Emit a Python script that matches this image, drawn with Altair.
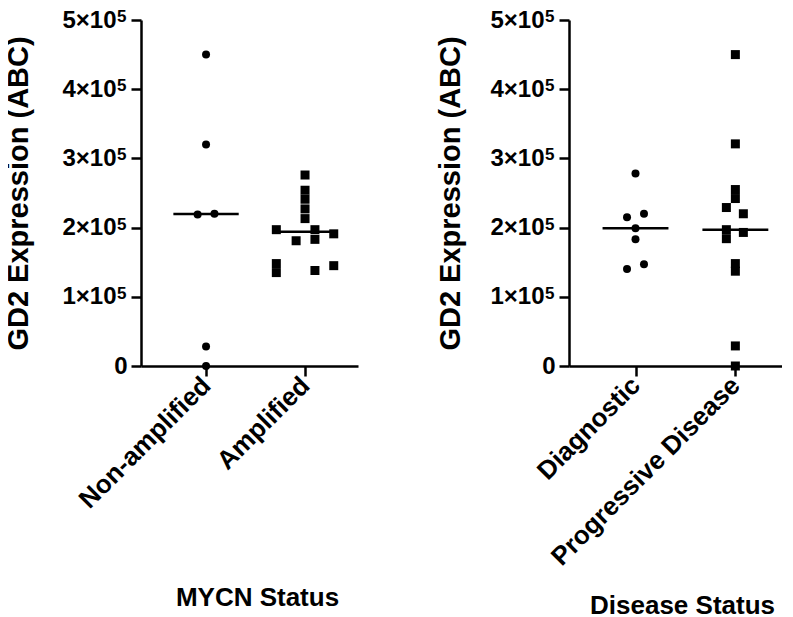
import altair as alt
import pandas as pd

# ---- data ----
left_categories = ["Non-amplified", "Amplified"]
nonamp_values = [4.50e5, 3.20e5, 2.19e5, 2.20e5, 0.28e5, 0.0]
nonamp_offsets = [0, 0, -0.085, 0.085, 0, 0]
amp_values = [2.76e5, 2.54e5, 2.41e5, 2.27e5, 2.13e5, 1.97e5, 1.97e5, 1.91e5,
              1.81e5, 1.83e5, 1.48e5, 1.35e5, 1.38e5, 1.45e5]
amp_offsets = [0, 0, 0, 0, 0, -0.29, 0.10, 0.29, -0.09, 0.10, -0.29, -0.29, 0.10, 0.29]

right_categories = ["Diagnostic", "Progressive Disease"]
diag_values = [2.78e5, 2.15e5, 2.20e5, 1.99e5, 1.83e5, 1.40e5, 1.47e5]
diag_offsets = [0, -0.085, 0.085, 0, 0, -0.085, 0.085]
prog_values = [4.50e5, 3.21e5, 2.55e5, 2.42e5, 2.29e5, 2.20e5, 1.97e5, 1.84e5,
               1.93e5, 1.48e5, 1.37e5, 0.29e5, 0.0]
prog_offsets = [0, 0, 0, 0, -0.09, 0.08, -0.09, -0.09, 0.08, 0, 0, 0, 0]

y_ticks = [0, 1e5, 2e5, 3e5, 4e5, 5e5]
exponent = "5"

FONT = "Liberation Sans"


def make_df(v0, o0, v1, o1):
    rows = [{"pos": 0, "off": o, "value": v} for v, o in zip(v0, o0)]
    rows += [{"pos": 1, "off": o, "value": v} for v, o in zip(v1, o1)]
    return pd.DataFrame(rows)


sup_df = pd.DataFrame({"value": [v for v in y_ticks if v > 0], "txt": exponent})


def panel(df, cats, xtitle, xdomain, width, height, title_y, title_x, ytitle_x):
    label_expr = f"datum.value == 0 ? '{cats[0]}' : '{cats[1]}'"
    xscale = alt.Scale(domain=xdomain, nice=False, zero=False)
    yscale = alt.Scale(domain=[0, 5e5], nice=False)
    xaxis = alt.Axis(values=[0, 1], labelExpr=label_expr, labelAngle=-45,
                     labelAlign="right", labelBaseline="middle", labelPadding=5,
                     labelFontSize=26, labelLimit=0,
                     title=xtitle, titleY=title_y, titleX=title_x,
                     titleBaseline="alphabetic", titleFontSize=26, grid=False)
    yaxis = alt.Axis(values=y_ticks,
                     labelExpr="datum.value == 0 ? '0' : format(datum.value/1e5, 'd') + '×10'",
                     labelFontSize=24,
                     labelPadding={"condition": {"test": "datum.value == 0", "value": 4}, "value": 15},
                     title="GD2 Expression (ABC)", titleFontSize=29,
                     titleX=ytitle_x, titleBaseline="bottom", grid=False)
    base = alt.Chart(df)
    pts = base.transform_calculate(xp="datum.pos + datum.off").mark_point(
        filled=True, opacity=1, color="black", clip=False
    ).encode(
        x=alt.X("xp:Q", scale=xscale, axis=xaxis),
        y=alt.Y("value:Q", scale=yscale, axis=yaxis),
        shape=alt.Shape("pos:N", scale=alt.Scale(domain=[0, 1], range=["circle", "square"]), legend=None),
        size=alt.Size("pos:N", scale=alt.Scale(domain=[0, 1], range=[64, 81]), legend=None),
    )
    med = base.transform_aggregate(
        med="median(value)", groupby=["pos"]
    ).transform_calculate(
        x1="datum.pos - 0.33", x2="datum.pos + 0.33"
    ).mark_rule(color="black", strokeWidth=2.5).encode(
        x=alt.X("x1:Q", scale=xscale),
        x2="x2:Q",
        y=alt.Y("med:Q", scale=yscale),
    )
    sup = alt.Chart(sup_df).mark_text(
        font=FONT, fontWeight="bold", fontSize=17, align="left",
        baseline="top", dy=-11, color="black"
    ).encode(
        x=alt.value(-24),
        y=alt.Y("value:Q", scale=yscale),
        text="txt:N",
    )
    return alt.layer(pts, med, sup).properties(width=width, height=height)


left = panel(make_df(nonamp_values, nonamp_offsets, amp_values, amp_offsets),
             left_categories, "MYCN Status", [-0.657, 1.535], 217, 346, 239, 116, -108)
right = panel(make_df(diag_values, diag_offsets, prog_values, prog_offsets),
              right_categories, "Disease Status", [-0.666, 1.467], 213, 346, 247, 113, -104)

chart = alt.hconcat(left, right, spacing=77).configure_view(
    stroke=None
).configure_axis(
    domainColor="black", domainWidth=2.5, tickColor="black", tickWidth=2.5,
    tickSize=10, labelFont=FONT, titleFont=FONT, labelFontWeight="bold",
    titleFontWeight="bold", labelColor="black", titleColor="black",
    labelOverlap=False,
).properties(
    padding={"left": -5, "top": 0, "right": 0, "bottom": 0}
)

chart.save("out.html", embed_options={"renderer": "svg", "actions": False})
